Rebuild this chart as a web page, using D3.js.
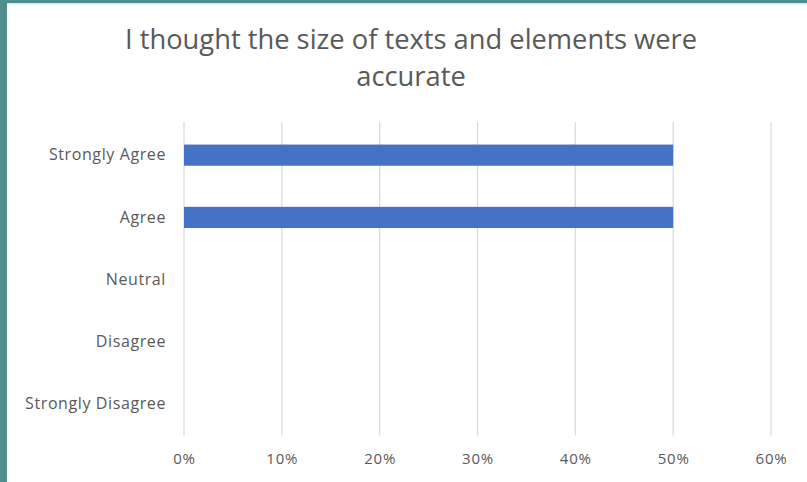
<!DOCTYPE html>
<html>
<head>
<meta charset="utf-8">
<script src="https://cdn.jsdelivr.net/npm/d3@7"></script>
<style>
  html, body { margin: 0; padding: 0; background: #ffffff; }
  svg { display: block; }
</style>
</head>
<body>
<svg id="chart" width="807" height="482"></svg>
<script>
// Survey responses, share of respondents per answer
const categories = ["Strongly Agree", "Agree", "Neutral", "Disagree", "Strongly Disagree"];
const values = [0.5, 0.5, 0, 0, 0];
const tickValues = [0, 0.1, 0.2, 0.3, 0.4, 0.5, 0.6];
const titleLines = ["I thought the size of texts and elements were", "accurate"];

const W = 807, H = 482;
const svg = d3.select("#chart");
const font = "'Open Sans', 'Noto Sans', sans-serif";
const textColor = "#595959";

// slide frame
svg.append("rect").attr("x", 0).attr("y", 0).attr("width", W).attr("height", H).attr("fill", "#ffffff");
svg.append("rect").attr("x", 0).attr("y", 0).attr("width", W).attr("height", 3).attr("fill", "#4e8e8e");
svg.append("rect").attr("x", 0).attr("y", 3).attr("width", W).attr("height", 1.5).attr("fill", "#e6e6e6");
svg.append("rect").attr("x", 0).attr("y", 0).attr("width", 7).attr("height", H).attr("fill", "#4e8e8e");

const plot = { left: 184, right: 771, top: 124, bottom: 435.5 };

const x = d3.scaleLinear().domain([0, 0.6]).range([plot.left, plot.right]);
const y = d3.scaleBand().domain(categories).range([plot.top, plot.bottom]).paddingInner(0.66).paddingOuter(0.33);

// vertical gridlines
svg.append("g").selectAll("line").data(tickValues).join("line")
  .attr("x1", d => x(d)).attr("x2", d => x(d))
  .attr("y1", plot.top - 2).attr("y2", plot.bottom)
  .attr("stroke", "#d9d9d9").attr("stroke-width", 1.2);

// bars
svg.append("g").selectAll("rect").data(categories).join("rect")
  .attr("x", x(0))
  .attr("y", d => y(d))
  .attr("width", (d, i) => x(values[i]) - x(0))
  .attr("height", y.bandwidth())
  .attr("fill", "#4472c4");

// category axis
const yAxis = svg.append("g").attr("transform", `translate(${plot.left},0)`)
  .call(d3.axisLeft(y).tickSize(0).tickPadding(18));
yAxis.select(".domain").remove();
yAxis.selectAll("text").attr("font-family", font).attr("font-size", 16)
  .attr("letter-spacing", 0.6).attr("fill", textColor);

// value axis
const xAxis = svg.append("g").attr("transform", `translate(0,${plot.bottom})`)
  .call(d3.axisBottom(x).tickValues(tickValues).tickFormat(d3.format(".0%")).tickSize(0).tickPadding(18));
xAxis.select(".domain").remove();
xAxis.selectAll("text").attr("font-family", font).attr("font-size", 15)
  .attr("letter-spacing", 0.8).attr("fill", textColor);

// title
svg.append("text")
  .attr("x", 411).attr("y", 49)
  .attr("text-anchor", "middle")
  .attr("font-family", font).attr("font-size", 27.3).attr("fill", textColor)
  .selectAll("tspan").data(titleLines).join("tspan")
  .attr("x", 411).attr("dy", (d, i) => i === 0 ? 0 : 37)
  .text(d => d);
</script>
</body>
</html>
